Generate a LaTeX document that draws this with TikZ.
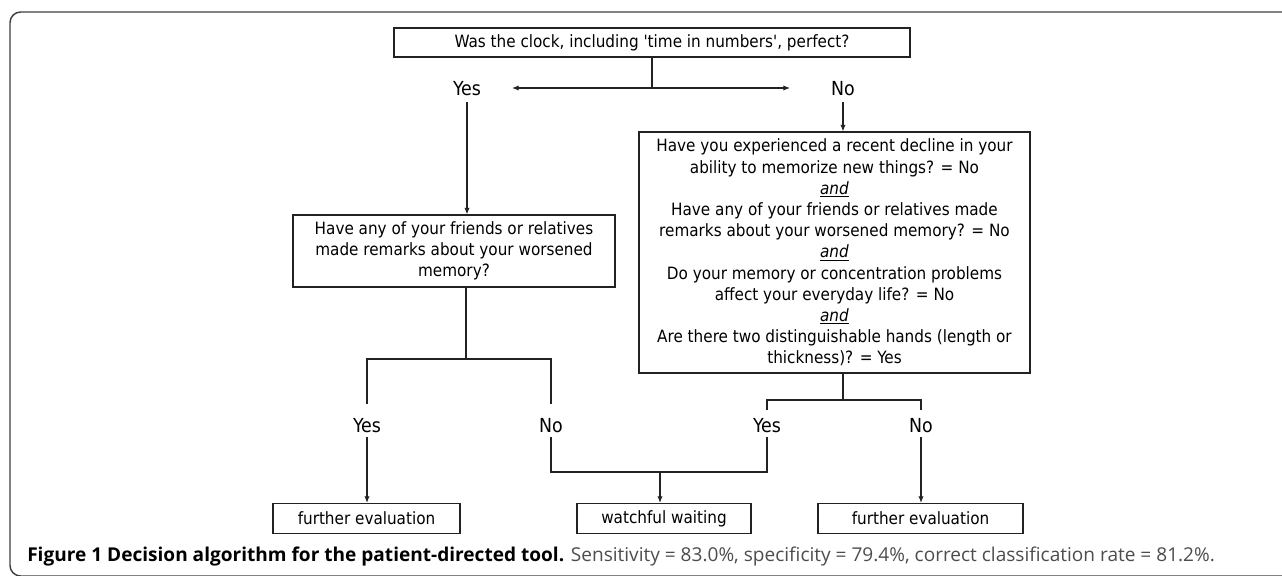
\documentclass[tikz,border=0pt]{standalone}
\usepackage{fontspec}
\setmainfont{DejaVu Sans Condensed}
\newfontfamily\capfont{Open Sans}
\usetikzlibrary{arrows.meta}
\definecolor{linec}{HTML}{222222}
\definecolor{capgrey}{HTML}{4D4D4D}
\begin{document}
\begin{tikzpicture}[x=0.75pt,y=-0.75pt,
  box/.style={draw=linec, line width=0.8pt, inner sep=0pt, align=center,
    font=\fontsize{12.7}{15.9}\selectfont, text=black},
  lbl/.style={inner sep=0pt, text height=11pt, text depth=0pt,
    font=\fontsize{14.5}{16}\selectfont, text=black},
  conn/.style={draw=linec, line width=0.9pt},
  arr/.style={conn, -{Latex[length=5pt,width=4pt]}},
]
\useasboundingbox (0,0) rectangle (1282,575);
\fill[white] (0,0) rectangle (1282,575);
\draw[black!75, line width=1.1pt, rounded corners=8pt] (1300,12) -- (10,12) -- (10,576) -- (1300,576);

% boxes
\node[box, minimum width=387pt, minimum height=21.75pt] (top) at (652,42.5)
  {Was the clock, including \textquotesingle time in numbers\textquotesingle, perfect?};
\node[box, minimum width=241.5pt, minimum height=54pt] (q1) at (454,251)
  {Have any of your friends or relatives\\made remarks about your worsened\\memory?};
\node[box, minimum width=293.25pt, minimum height=180.75pt] (q2) at (834.5,252.5)
  {Have you experienced a recent decline in your\\ability to memorize new things? = No\\
   \underline{\textit{and}}\\
   Have any of your friends or relatives made\\remarks about your worsened memory? = No\\
   \underline{\textit{and}}\\
   Do your memory or concentration problems\\affect your everyday life? = No\\
   \underline{\textit{and}}\\
   Are there two distinguishable hands (length or\\thickness)? = Yes};
\node[box, minimum width=140.25pt, minimum height=22.5pt] (fe1) at (366.5,518.5) {further evaluation};
\node[box, minimum width=130.5pt, minimum height=22.5pt] (ww) at (664,518.5) {watchful waiting};
\node[box, minimum width=153.75pt, minimum height=22.5pt] (fe2) at (920.5,518.5) {further evaluation};

% labels
\node[lbl] (yes0) at (467,88) {Yes};
\node[lbl] (no0) at (843,88) {No};
\node[lbl] (yes1) at (367,425) {Yes};
\node[lbl] (no1) at (551,425) {No};
\node[lbl] (yes2) at (767,425) {Yes};
\node[lbl] (no2) at (921,425) {No};

\coordinate (a0l) at (512,88);
\coordinate (a0r) at (790,88);

% connectors
\draw[conn] (top.south) -- (top.south |- yes0.center) coordinate (s0);
\draw[arr] (s0) -- (a0l);
\draw[arr] (s0) -- (a0r);
\draw[arr] ([yshift=-5pt]yes0.south) -- (yes0.south |- q1.north);
\draw[arr] ([yshift=-5pt]no0.south) -- (no0.south |- q2.north);

\draw[conn] ([xshift=9pt]q1.south) -- ([xshift=9pt]q1.south |- 0,359);
\draw[conn] ([yshift=10.3pt]yes1.north) -- (yes1.north |- 0,359) -- (no1.north |- 0,359) -- ([yshift=10.3pt]no1.north);

\draw[conn] (no0.south |- q2.south) -- (no0.south |- 0,400);
\draw[conn] ([yshift=5.8pt]yes2.north) -- (yes2.north |- 0,400) -- (no2.north |- 0,400) -- ([yshift=5.8pt]no2.north);

\draw[arr] ([yshift=-3.5pt]yes1.south) -- (yes1.south |- fe1.north);
\draw[conn] ([yshift=-3.5pt]no1.south) -- (no1.south |- 0,472) -- (yes2.south |- 0,472) -- ([yshift=-3.5pt]yes2.south);
\draw[arr] ([xshift=-3pt]ww.north |- 0,472) -- ([xshift=-3pt]ww.north);
\draw[arr] ([yshift=-3.5pt]no2.south) -- (no2.south |- fe2.north);

% caption
\node[anchor=base west, inner sep=0pt, font=\capfont\fontsize{14.3}{16}\selectfont] (cap) at (27,561)
  {{\bfseries Figure 1 Decision algorithm for the patient-directed tool.} \textcolor{capgrey}{Sensitivity = 83.0\%, specificity = 79.4\%, correct classification rate = 81.2\%.}};
\end{tikzpicture}
\end{document}
